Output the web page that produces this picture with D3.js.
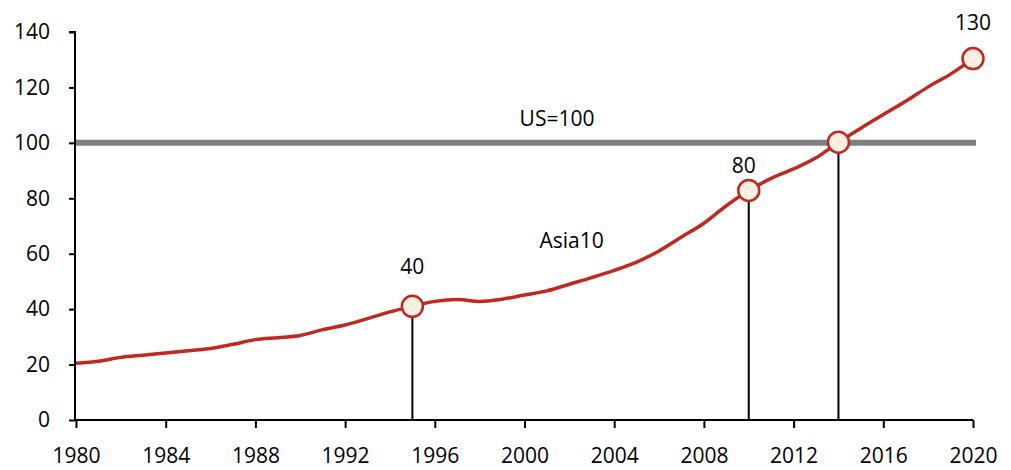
<!DOCTYPE html>
<html>
<head>
<meta charset="utf-8">
<script src="https://cdn.jsdelivr.net/npm/d3@7"></script>
<style>
  body { margin: 0; background: #fff; }
  text { font-family: "Open Sans", "Noto Sans", sans-serif; fill: #000; }
</style>
</head>
<body>
<div id="chart"></div>
<script>
// data
var years = d3.range(1980, 2021);
var asia10 = [20.5, 21.2, 22.6, 23.4, 24.2, 25, 25.8, 27.3, 29, 29.7,
              30.5, 32.6, 34.3, 36.6, 39, 41, 42.8, 43.5, 42.8, 43.6,
              45.1, 46.6, 49, 51.4, 54, 57, 61, 66, 71, 77.3,
              82.8, 87.2, 90.6, 94.6, 100.2, 105.3, 110.2, 115, 120.2, 124.8, 130.4];
var usLevel = 100;
var markYears = [1995, 2010, 2014, 2020];
var markLabels = ["40", "80", "", "130"];
var xTicks = d3.range(1980, 2021, 4);
var yTicks = d3.range(0, 141, 20);

var margin = {top: 32, right: 38, bottom: 50, left: 75},
    width = 1011 - margin.left - margin.right,
    height = 470 - margin.top - margin.bottom;

var svg = d3.select("#chart")
    .append("svg")
        .attr("width", 1011)
        .attr("height", 470)
    .append("g")
        .attr("transform", "translate(" + margin.left + "," + margin.top + ")");

var x = d3.scaleLinear().domain([1980, 2020]).range([1, 898]);
var y = d3.scaleLinear().domain([0, 140]).range([388, 0]);

// US=100 reference line
svg.append("line")
    .attr("x1", 0).attr("x2", x(2020) + 3)
    .attr("y1", y(usLevel)).attr("y2", y(usLevel))
    .attr("stroke", "#808080")
    .attr("stroke-width", 6);

// axes
var yAxis = svg.append("g")
    .call(d3.axisLeft(y).tickValues(yTicks).tickSize(6).tickPadding(19));
var xAxis = svg.append("g")
    .attr("transform", "translate(0," + y(0) + ")")
    .call(d3.axisBottom(x).tickValues(xTicks).tickFormat(d3.format("d")).tickSize(8).tickPadding(20));
[xAxis, yAxis].forEach(function(a) {
    a.select(".domain").attr("stroke", "#000").attr("stroke-width", 2);
    a.selectAll(".tick line").attr("stroke", "#000").attr("stroke-width", 2);
    a.selectAll(".tick text").style("font-size", "21px").attr("fill", "#000");
});
yAxis.select(".domain").attr("d", "M-6,0H0V" + y(0));
xAxis.select(".domain").attr("d", "M0,0H" + x(2020));

// drop lines
var marks = markYears.map(function(yr, i) {
    return {year: yr, value: asia10[years.indexOf(yr)], label: markLabels[i]};
});
svg.selectAll(".drop")
    .data(marks.filter(function(d) { return d.year !== 2020; }))
    .enter().append("line")
        .attr("x1", function(d) { return x(d.year); })
        .attr("x2", function(d) { return x(d.year); })
        .attr("y1", function(d) { return y(d.value); })
        .attr("y2", y(0))
        .attr("stroke", "#000")
        .attr("stroke-width", 2);

// the series line
svg.append("path")
    .datum(asia10)
    .attr("fill", "none")
    .attr("stroke", "#c1281f")
    .attr("stroke-width", 3.5)
    .attr("stroke-linejoin", "round")
    .attr("d", d3.line()
        .x(function(d, i) { return x(years[i]); })
        .y(function(d) { return y(d); })
        .curve(d3.curveMonotoneX));

// circle markers
svg.selectAll(".mark")
    .data(marks)
    .enter().append("circle")
        .attr("cx", function(d) { return x(d.year); })
        .attr("cy", function(d) { return y(d.value); })
        .attr("r", 10.5)
        .attr("fill", "#fdefe1")
        .attr("stroke", "#c1281f")
        .attr("stroke-width", 2.5);

// label offsets above each marker
function labelDy(d) {
    if (d.year === 2010) return -18;
    if (d.year === 2020) return -29;
    return -32;
}
svg.selectAll(".mlabel")
    .data(marks)
    .enter().append("text")
        .attr("x", function(d) { return x(d.year) - (d.year === 2010 ? 5 : 0); })
        .attr("y", function(d) { return y(d.value) + labelDy(d); })
        .attr("text-anchor", "middle")
        .style("font-size", "21px")
        .text(function(d) { return d.label; });

svg.append("text")
    .attr("x", x(2001.45)).attr("y", y(usLevel) - 17)
    .attr("text-anchor", "middle")
    .style("font-size", "21px")
    .text("US=100");

svg.append("text")
    .attr("x", x(2002.1)).attr("y", y(usLevel) + 105)
    .attr("text-anchor", "middle")
    .style("font-size", "21px")
    .text("Asia10");
</script>
</body>
</html>
